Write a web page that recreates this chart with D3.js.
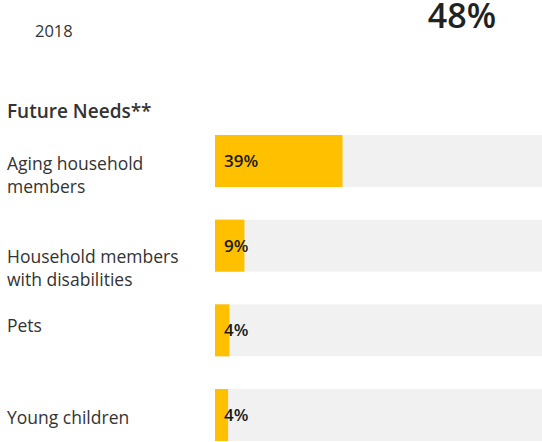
<!DOCTYPE html>
<html>
<head>
<meta charset="utf-8">
<script src="https://cdn.jsdelivr.net/npm/d3@7"></script>
<style>
  html, body { margin: 0; padding: 0; background: #fff; }
  svg { display: block; }
  text { font-family: "Open Sans", "Lato", sans-serif; }
</style>
</head>
<body>
<svg id="chart" width="542" height="442"></svg>
<script>
// ---- data ----
const headerYear = "2018";
const headerValue = "48%";
const sectionTitle = "Future Needs**";
const categories = ["Aging household members", "Household members with disabilities", "Pets", "Young children"];
const labelLines = [["Aging household", "members"], ["Household members", "with disabilities"], ["Pets"], ["Young children"]];
const values = [39, 9, 4.4, 4];
const valueLabels = ["39%", "9%", "4%", "4%"];

// ---- layout ----
const labelDy = [35, 43, 28, 35];
const svg = d3.select("#chart");

const x = d3.scaleLinear().domain([0, 100]).range([215, 542]);
const y = d3.scaleBand().domain(categories).range([135, 441]).paddingInner(0.386).paddingOuter(0);

svg.append("text").attr("x", 35).attr("y", 37)
  .attr("font-size", 16.5).attr("fill", "#333").text(headerYear);
svg.append("text").attr("x", 496).attr("y", 28).attr("text-anchor", "end")
  .attr("font-size", 34).attr("font-weight", 600).attr("fill", "#222").text(headerValue);
svg.append("text").attr("x", 7).attr("y", 118)
  .attr("font-size", 19).attr("font-weight", 600).attr("fill", "#333").text(sectionTitle);

const g = svg.append("g");
const rows = g.selectAll("g.row").data(categories).join("g").attr("class", "row");

rows.append("rect")
  .attr("x", x(0)).attr("y", d => y(d))
  .attr("width", x(100) - x(0)).attr("height", y.bandwidth())
  .attr("fill", "#f1f1f1");

rows.append("rect")
  .attr("x", x(0)).attr("y", d => y(d))
  .attr("width", (d, i) => x(values[i]) - x(0)).attr("height", y.bandwidth())
  .attr("fill", "#ffc000");

rows.append("text")
  .attr("x", x(0) + 9).attr("y", d => y(d) + y.bandwidth() / 2 + 6)
  .attr("font-size", 17).attr("font-weight", 600).attr("fill", "#1a1a1a")
  .text((d, i) => valueLabels[i]);

rows.each(function(d, i) {
  const t = d3.select(this).append("text")
    .attr("x", 7).attr("y", y(d) + labelDy[i])
    .attr("font-size", 17.5).attr("fill", "#333");
  labelLines[i].forEach((line, j) => {
    t.append("tspan").attr("x", 7).attr("dy", j === 0 ? 0 : 23).text(line);
  });
});
</script>
</body>
</html>
